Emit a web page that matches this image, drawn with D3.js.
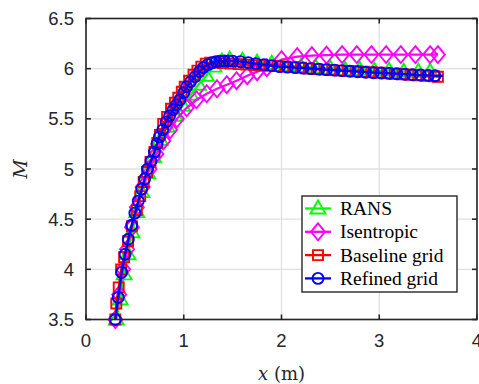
<!DOCTYPE html>
<html>
<head>
<meta charset="utf-8">
<script src="https://cdn.jsdelivr.net/npm/d3@7"></script>
<style>
  body { margin: 0; background: #fff; }
  svg { display: block; }
</style>
</head>
<body>
<svg id="chart"></svg>
<script>
// tick values
const xTicks = [0, 1, 2, 3, 4];
const yTicks = [3.5, 4, 4.5, 5, 5.5, 6, 6.5];

// series: [x (m), M]
const ransData = [
  [0.31, 3.50], [0.35, 3.70], [0.39, 3.95], [0.43, 4.15], [0.47, 4.37], [0.52, 4.57],
  [0.57, 4.77], [0.63, 4.96], [0.69, 5.12], [0.76, 5.29], [0.83, 5.42], [0.91, 5.53],
  [0.99, 5.63], [1.07, 5.74], [1.15, 5.84], [1.23, 5.93], [1.31, 6.02], [1.39, 6.07],
  [1.47, 6.09], [1.60, 6.08], [1.75, 6.06], [1.90, 6.05], [2.05, 6.03], [2.20, 6.02],
  [2.35, 6.01], [2.50, 6.00], [2.65, 5.99], [2.80, 5.99], [2.95, 5.98], [3.10, 5.98],
  [3.25, 5.97], [3.40, 5.97], [3.52, 5.97]
];
const isentropicData = [
  [0.30, 3.50], [0.34, 3.75], [0.38, 4.00], [0.42, 4.20], [0.47, 4.42], [0.52, 4.62],
  [0.58, 4.82], [0.65, 5.00], [0.72, 5.15], [0.79, 5.28], [0.86, 5.39], [0.93, 5.50],
  [1.03, 5.61], [1.13, 5.69], [1.235, 5.75], [1.34, 5.80], [1.44, 5.84], [1.54, 5.88],
  [1.65, 5.93], [1.75, 5.97], [1.85, 6.01], [2.00, 6.09], [2.16, 6.12], [2.31, 6.13],
  [2.46, 6.135], [2.62, 6.14], [2.77, 6.14], [2.92, 6.14], [3.07, 6.14], [3.22, 6.14],
  [3.37, 6.14], [3.52, 6.14], [3.60, 6.14]
];
const baselineData = [
  [0.30, 3.50], [0.31, 3.66], [0.335, 3.82], [0.36, 4.00], [0.39, 4.12], [0.43, 4.28],
  [0.47, 4.43], [0.52, 4.59], [0.555, 4.73], [0.59, 4.87], [0.625, 4.97], [0.66, 5.07],
  [0.70, 5.17], [0.73, 5.26], [0.757, 5.34], [0.79, 5.45], [0.83, 5.52], [0.87, 5.60],
  [0.91, 5.66], [0.944, 5.71], [0.98, 5.77], [1.01, 5.82], [1.055, 5.88], [1.10, 5.94],
  [1.14, 5.98], [1.18, 6.02], [1.225, 6.05], [1.27, 6.06], [1.32, 6.06], [1.40, 6.055],
  [1.48, 6.05], [1.56, 6.045], [1.64, 6.04], [1.72, 6.035], [1.80, 6.03], [1.88, 6.03],
  [1.96, 6.025], [2.04, 6.02], [2.12, 6.015], [2.20, 6.01], [2.28, 6.0], [2.36, 5.995],
  [2.44, 5.99], [2.52, 5.985], [2.60, 5.98], [2.68, 5.978], [2.76, 5.975], [2.84, 5.97],
  [2.92, 5.965], [3.00, 5.96], [3.08, 5.955], [3.16, 5.95], [3.24, 5.945], [3.32, 5.94],
  [3.40, 5.935], [3.48, 5.93], [3.56, 5.925], [3.60, 5.92]
];
const refinedData = [
  [0.30, 3.50], [0.33, 3.72], [0.365, 3.97], [0.40, 4.15], [0.433, 4.30], [0.467, 4.44],
  [0.50, 4.56], [0.535, 4.68], [0.57, 4.80], [0.60, 4.90], [0.63, 5.00], [0.665, 5.08],
  [0.70, 5.17], [0.725, 5.25], [0.75, 5.32], [0.785, 5.39], [0.82, 5.47], [0.855, 5.53],
  [0.89, 5.59], [0.925, 5.64], [0.96, 5.69], [1.00, 5.76], [1.03, 5.82], [1.07, 5.87],
  [1.115, 5.92], [1.16, 5.97], [1.20, 6.01], [1.245, 6.04], [1.29, 6.06], [1.33, 6.07],
  [1.37, 6.075], [1.415, 6.078], [1.46, 6.078], [1.50, 6.075], [1.58, 6.07], [1.66, 6.06],
  [1.74, 6.05], [1.82, 6.04], [1.90, 6.03], [1.98, 6.02], [2.06, 6.015], [2.14, 6.01],
  [2.22, 6.005], [2.30, 6.0], [2.38, 5.995], [2.46, 5.99], [2.54, 5.985], [2.62, 5.98],
  [2.70, 5.975], [2.78, 5.97], [2.86, 5.965], [2.94, 5.96], [3.02, 5.957], [3.10, 5.953],
  [3.18, 5.95], [3.26, 5.945], [3.34, 5.94], [3.42, 5.937], [3.50, 5.933], [3.57, 5.93]
];
const refinedLineEnd = [3.65, 5.928];

const seriesNames = ["RANS", "Isentropic", "Baseline grid", "Refined grid"];
const seriesColors = ["#00ff00", "#ff00ff", "#ff0000", "#0000ff"];
const seriesMarkers = ["triangle", "diamond", "square", "circle"];

const width = 479, height = 384;
const margin = { left: 86, right: 2, top: 18.5, bottom: 64.5 };
const axisColor = "#262626";
const sansFont = "'Liberation Sans', Arial, Helvetica, sans-serif";
const serifFont = "'Liberation Serif', 'Times New Roman', serif";

const svg = d3.select("#chart").attr("width", width).attr("height", height);

const x = d3.scaleLinear().domain([0, 4]).range([margin.left, width - margin.right]);
const y = d3.scaleLinear().domain([3.5, 6.5]).range([height - margin.bottom, margin.top]);

// grid
svg.append("g")
  .selectAll("line")
  .data(xTicks)
  .enter()
  .append("line")
  .attr("x1", d => x(d)).attr("x2", d => x(d))
  .attr("y1", y(3.5)).attr("y2", y(6.5))
  .attr("stroke", "#e0e0e0").attr("stroke-width", 1.3);
svg.append("g")
  .selectAll("line")
  .data(yTicks)
  .enter()
  .append("line")
  .attr("x1", x(0)).attr("x2", x(4))
  .attr("y1", d => y(d)).attr("y2", d => y(d))
  .attr("stroke", "#e0e0e0").attr("stroke-width", 1.3);

const markerPath = (type) => {
  if (type === "triangle") return "M0,-8L7.5,5L-7.5,5Z";
  if (type === "diamond") return "M0,-8.5L7,0L0,8.5L-7,0Z";
  if (type === "square") return "M-5,-5L5,-5L5,5L-5,5Z";
  return null;
};

const drawMarker = (g, type, color, cx, cy) => {
  if (type === "circle") {
    g.append("circle")
      .attr("cx", cx).attr("cy", cy).attr("r", 5.5)
      .attr("fill", "none").attr("stroke", color).attr("stroke-width", 1.9);
  } else {
    g.append("path")
      .attr("d", markerPath(type))
      .attr("transform", `translate(${cx},${cy})`)
      .attr("fill", "none").attr("stroke", color).attr("stroke-width", 1.9)
      .attr("stroke-linejoin", "miter");
  }
};

const line = d3.line().x(d => x(d[0])).y(d => y(d[1]));
const plot = svg.append("g");

const allData = [ransData, isentropicData, baselineData, refinedData];
allData.forEach((data, i) => {
  const g = plot.append("g");
  const lineData = i === 3 ? data.concat([refinedLineEnd]) : data;
  g.append("path")
    .datum(lineData)
    .attr("d", line)
    .attr("fill", "none")
    .attr("stroke", seriesColors[i])
    .attr("stroke-width", 2.3);
  data.forEach(d => drawMarker(g, seriesMarkers[i], seriesColors[i], x(d[0]), y(d[1])));
});

// axes box with inward ticks
const axes = svg.append("g");
axes.append("rect")
  .attr("x", x(0)).attr("y", y(6.5))
  .attr("width", x(4) - x(0)).attr("height", y(3.5) - y(6.5))
  .attr("fill", "none").attr("stroke", axisColor).attr("stroke-width", 1.6);

const tickLen = 5;
xTicks.forEach(t => {
  axes.append("line").attr("x1", x(t)).attr("x2", x(t))
    .attr("y1", y(3.5)).attr("y2", y(3.5) - tickLen)
    .attr("stroke", axisColor).attr("stroke-width", 1.6);
  axes.append("line").attr("x1", x(t)).attr("x2", x(t))
    .attr("y1", y(6.5)).attr("y2", y(6.5) + tickLen)
    .attr("stroke", axisColor).attr("stroke-width", 1.6);
  axes.append("text")
    .attr("x", x(t)).attr("y", y(3.5) + 27)
    .attr("text-anchor", "middle")
    .attr("font-family", sansFont)
    .attr("font-size", 18.5)
    .attr("fill", axisColor)
    .text(d3.format("d")(t));
});
yTicks.forEach(t => {
  axes.append("line").attr("x1", x(0)).attr("x2", x(0) + tickLen)
    .attr("y1", y(t)).attr("y2", y(t))
    .attr("stroke", axisColor).attr("stroke-width", 1.6);
  axes.append("line").attr("x1", x(4)).attr("x2", x(4) - tickLen)
    .attr("y1", y(t)).attr("y2", y(t))
    .attr("stroke", axisColor).attr("stroke-width", 1.6);
  axes.append("text")
    .attr("x", x(0) - 12).attr("y", y(t) + 6.5)
    .attr("text-anchor", "end")
    .attr("font-family", sansFont)
    .attr("font-size", 18.5)
    .attr("fill", axisColor)
    .text(Number.isInteger(t) ? d3.format("d")(t) : d3.format(".1f")(t));
});

// axis labels
const xl = svg.append("text")
  .attr("x", (x(0) + x(4)) / 2).attr("y", 380)
  .attr("text-anchor", "middle")
  .attr("font-family", "'DejaVu Serif', serif")
  .attr("font-size", 18)
  .attr("fill", axisColor);
xl.append("tspan").attr("font-style", "italic").text("x");
xl.append("tspan").text(" (m)");

svg.append("text")
  .attr("transform", `translate(27, ${(y(3.5) + y(6.5)) / 2}) rotate(-90)`)
  .attr("text-anchor", "middle")
  .attr("font-family", "'DejaVu Serif', serif")
  .attr("font-style", "italic")
  .attr("font-size", 19)
  .attr("fill", axisColor)
  .text("M");

// legend
const legend = svg.append("g");
legend.append("rect")
  .attr("x", 302).attr("y", 196).attr("width", 155).attr("height", 96)
  .attr("fill", "#fff").attr("stroke", axisColor).attr("stroke-width", 1.4);
seriesNames.forEach((name, i) => {
  const cy = 208.5 + i * 23.3;
  legend.append("line")
    .attr("x1", 305).attr("x2", 331).attr("y1", cy).attr("y2", cy)
    .attr("stroke", seriesColors[i]).attr("stroke-width", 2.3);
  drawMarker(legend, seriesMarkers[i], seriesColors[i], 318, cy);
  legend.append("text")
    .attr("x", 340).attr("y", cy + 6.5)
    .attr("font-family", serifFont)
    .attr("font-size", 19.5)
    .attr("fill", "#000")
    .text(name);
});
</script>
</body>
</html>
